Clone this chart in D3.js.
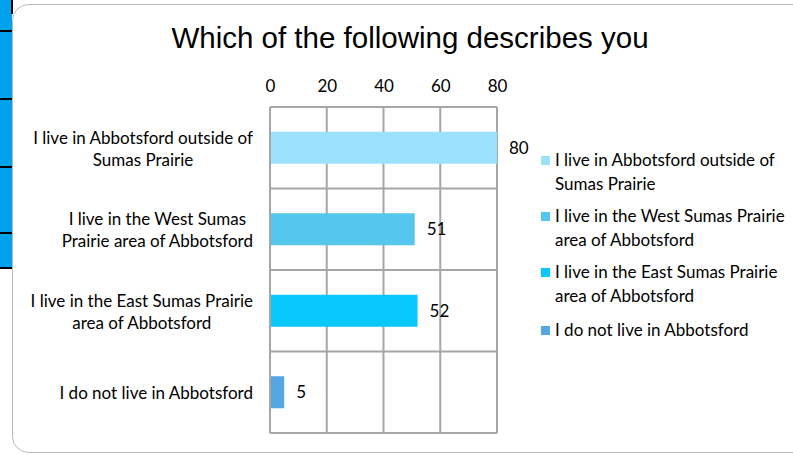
<!DOCTYPE html>
<html><head><meta charset="utf-8">
<script src="https://cdn.jsdelivr.net/npm/d3@7"></script>
<style>body{margin:0;background:#fff;}svg{display:block;}</style>
</head><body>
<svg id="c" width="793" height="455"></svg>
<script>
const title = "Which of the following describes you";
const categories = [
  "I live in Abbotsford outside of Sumas Prairie",
  "I live in the West Sumas Prairie area of Abbotsford",
  "I live in the East Sumas Prairie area of Abbotsford",
  "I do not live in Abbotsford"
];
const axisLines = [
  ["I live in Abbotsford outside of", "Sumas Prairie"],
  ["I live in the West Sumas", "Prairie area of Abbotsford"],
  ["I live in the East Sumas Prairie", "area of Abbotsford"],
  ["I do not live in Abbotsford"]
];
const legendLines = [
  ["I live in Abbotsford outside of", "Sumas Prairie"],
  ["I live in the West Sumas Prairie", "area of Abbotsford"],
  ["I live in the East Sumas Prairie", "area of Abbotsford"],
  ["I do not live in Abbotsford"]
];
const values = [80, 51, 52, 5];
const tickValues = [0, 20, 40, 60, 80];
const palette = ["#9ae2fb", "#55c6ee", "#08c8fc", "#56a6e3"];

const svg = d3.select("#c");
const font = "Lato, 'Open Sans', sans-serif";

// size the body font so the longest label matches the reference width
const probe = svg.append("text").attr("font-family", font).attr("font-size", 15).text("I live in Abbotsford outside of");
const fs = 15 * 220 / probe.node().getComputedTextLength();
probe.remove();

// left spreadsheet strip
const stripLines = [0, 31, 99, 167, 233, 268];
svg.append("rect").attr("x", 0).attr("y", 0).attr("width", 12).attr("height", 268).attr("fill", "#00a2ed");
stripLines.slice(1).forEach(y => svg.append("rect").attr("x", 0).attr("y", y - 1).attr("width", 12).attr("height", 2).attr("fill", "#000"));
svg.append("rect").attr("x", 11).attr("y", 0).attr("width", 2).attr("height", 14).attr("fill", "#000");

// chart border
svg.append("rect").attr("x", 12.5).attr("y", 4.5).attr("width", 800).attr("height", 448)
  .attr("rx", 16).attr("fill", "#fff").attr("stroke", "#b8b8b8").attr("stroke-width", 1);

svg.append("text").attr("x", 410).attr("y", 48).attr("text-anchor", "middle")
  .attr("font-family", "'Liberation Sans', Arial, sans-serif").attr("font-size", 29.5).attr("fill", "#000")
  .text(title);

const x = d3.scaleLinear().domain([0, 80]).range([270, 497]);
const y = d3.scaleBand().domain(categories).range([107, 433]).paddingInner(0).paddingOuter(0);
const barH = 32;

const grid = svg.append("g").attr("stroke", "#a6a6a6").attr("stroke-width", 2);
tickValues.forEach(t => grid.append("line").attr("x1", x(t)).attr("x2", x(t)).attr("y1", 107).attr("y2", 433));
categories.forEach(c => grid.append("line").attr("x1", x(0)).attr("x2", x(80)).attr("y1", y(c)).attr("y2", y(c)));
grid.append("line").attr("x1", x(0)).attr("x2", x(80)).attr("y1", 433).attr("y2", 433);

// top axis labels
const ax = svg.append("g").attr("transform", "translate(0,92)")
  .call(d3.axisTop(x).tickValues(tickValues).tickSize(0).tickPadding(0));
ax.select(".domain").remove();
ax.selectAll("text").attr("font-family", font).attr("font-size", fs).attr("fill", "#000");

// bars
svg.append("g").selectAll("rect").data(values).join("rect")
  .attr("x", x(0) + 1)
  .attr("y", (d, i) => y(categories[i]) + y.bandwidth() / 2 - barH / 2)
  .attr("width", d => x(d) - x(0) - 1)
  .attr("height", barH)
  .attr("fill", (d, i) => palette[i]);

// value labels
svg.append("g").selectAll("text").data(values).join("text")
  .attr("x", d => x(d) + 12)
  .attr("y", (d, i) => y(categories[i]) + y.bandwidth() / 2 + 6)
  .attr("font-family", font).attr("font-size", fs).attr("fill", "#000")
  .text(d => d);

// category labels
const catG = svg.append("g");
axisLines.forEach((lines, i) => {
  const cy = y(categories[i]) + y.bandwidth() / 2;
  const g = catG.append("g");
  const n = lines.length;
  const texts = lines.map((l, j) => g.append("text")
    .attr("y", cy + (j - (n - 1) / 2) * 22 + 7)
    .attr("font-family", font).attr("font-size", fs).attr("fill", "#000")
    .attr("text-anchor", "middle").text(l));
  const maxW = d3.max(texts, t => t.node().getComputedTextLength());
  texts.forEach(t => t.attr("x", 253 - maxW / 2));
});

// legend
const legY = [166, 222, 278, 336];
legendLines.forEach((lines, i) => {
  svg.append("rect").attr("x", 541).attr("y", legY[i] - 10).attr("width", 9).attr("height", 9).attr("fill", palette[i]);
  lines.forEach((l, j) => svg.append("text").attr("x", 555).attr("y", legY[i] + j * 24)
    .attr("font-family", font).attr("font-size", fs).attr("fill", "#000").text(l));
});
</script>
</body></html>
